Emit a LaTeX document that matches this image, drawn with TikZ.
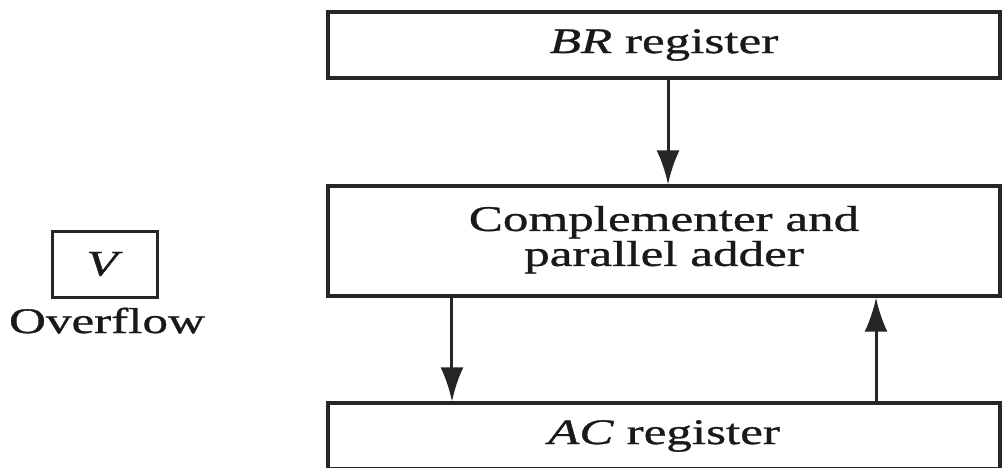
\documentclass[tikz,border=0pt]{standalone}
\usepackage{fontspec}
\setmainfont{Liberation Serif}[FakeStretch=1.42,FakeBold=0.9]
\usetikzlibrary{arrows.meta,calc}
\begin{document}
\begin{tikzpicture}[x=0.5pt,y=-0.5pt,
  txt/.style={font=\fontsize{18}{18.5}\selectfont, text=black!90},
  reg/.style={txt, draw=black!85, line width=1.6pt, inner sep=0pt,
    minimum width=336pt, align=center},
  flow/.style={draw=black!85, line width=1.5pt,
    -{Latex[length=17pt,width=11.5pt]}},
]
\useasboundingbox (0,0) rectangle (1002,467);

% registers and the adder
\node[reg, minimum height=33pt] (br) at (664,45) {\textit{BR} register};
\node[reg, minimum height=55pt] (comp) at (664,241) {\raisebox{-3pt}{\begin{tabular}{@{}c@{}}Complementer and\\[-1pt]parallel adder\end{tabular}}};
\node[reg, minimum height=33pt] (ac) at (664,436) {\raisebox{-2pt}{\textit{AC} register}};

% overflow flip-flop
\node[txt, draw=black!85, line width=1.5pt, inner sep=0pt,
  minimum width=52.5pt, minimum height=33pt] (v) at (104.5,264) {\textit{V}};
\node[txt, anchor=base] (ovf) at (107,333) {Overflow};

% data paths
\draw[flow] ($(br.south west)!0.506!(br.south east)$)
  -- ($(comp.north west)!0.506!(comp.north east)$);
\draw[flow] ($(comp.south west)!0.186!(comp.south east)$)
  -- ($(ac.north west)!0.186!(ac.north east)$);
\draw[flow] ($(ac.north west)!0.814!(ac.north east)$)
  -- ($(comp.south west)!0.814!(comp.south east)$);
\end{tikzpicture}
\end{document}
